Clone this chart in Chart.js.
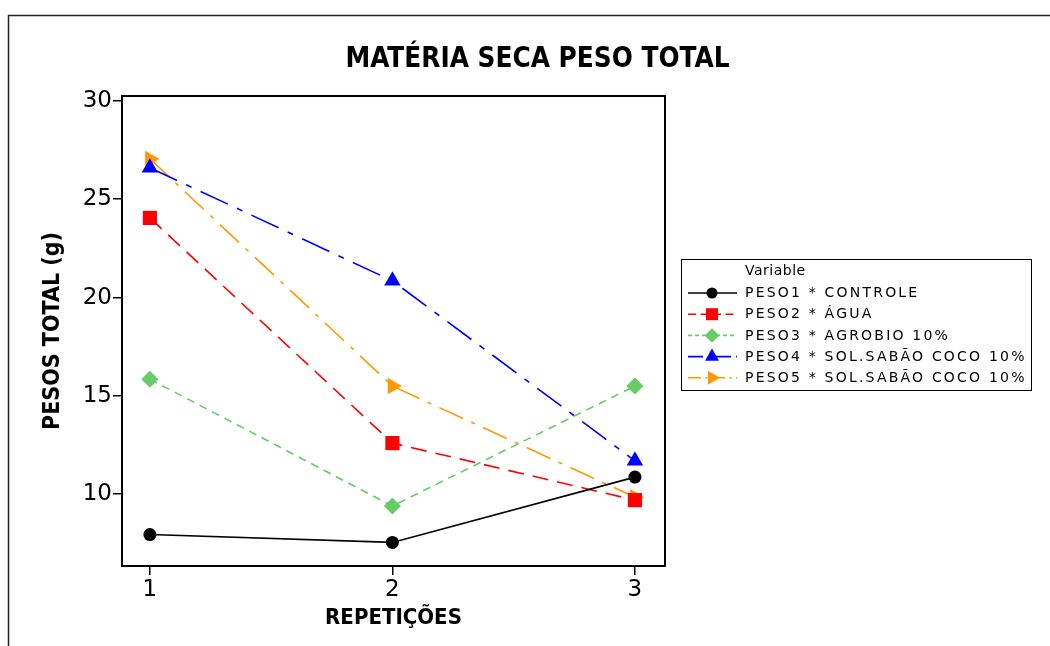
<!DOCTYPE html>
<html><head><meta charset="utf-8">
<script src="https://cdn.jsdelivr.net/npm/chart.js@4/dist/chart.umd.min.js"></script>
<style>html,body{margin:0;padding:0;background:#fff}#wrap{width:1050px;height:646px}</style>
</head><body><div id="wrap"><canvas id="c" width="1050" height="646"></canvas></div>
<script>
const titleText = 'MATÉRIA SECA PESO TOTAL';
const xTitle = 'REPETIÇÕES';
const yTitle = 'PESOS TOTAL (g)';
const legendHeader = 'Variable';
const repeticoes = [1, 2, 3];
const seriesNames = ['PESO1 * CONTROLE', 'PESO2 * ÁGUA', 'PESO3 * AGROBIO 10%', 'PESO4 * SOL.SABÃO COCO 10%', 'PESO5 * SOL.SABÃO COCO 10%'];
const peso1 = [7.95, 7.55, 10.87];
const peso2 = [24.05, 12.6, 9.7];
const peso3 = [15.85, 9.4, 15.5];
const peso4 = [26.6, 20.85, 11.7];
const peso5 = [27.05, 15.5, 9.85];
const yTicks = [10, 15, 20, 25, 30];

const FONT = '"DejaVu Sans", Verdana, sans-serif';
const COND = '"DejaVu Sans Condensed", "DejaVu Sans", sans-serif';

function pts(arr) { return arr.map((v, i) => ({ x: repeticoes[i], y: v })); }

const styles = [
  { color: '#000000', dash: [], pointStyle: 'circle', radius: 6.5, rotation: 0 },
  { color: '#ff0000', dash: [16, 9], pointStyle: 'rect', radius: 10, rotation: 0 },
  { color: '#66cc66', dash: [8, 6], pointStyle: 'rectRot', radius: 8.5, rotation: 0 },
  { color: '#0000ff', dash: [30, 10, 6, 10], pointStyle: 'triangle', radius: 9.5, rotation: 0 },
  { color: '#ff9900', dash: [26, 9, 4, 9], pointStyle: 'triangle', radius: 9.5, rotation: 90 }
];
const allData = [peso1, peso2, peso3, peso4, peso5];

const datasets = allData.map((d, i) => ({
  label: seriesNames[i],
  data: pts(d),
  borderColor: styles[i].color,
  backgroundColor: styles[i].color,
  borderWidth: 1.6,
  borderDash: styles[i].dash,
  pointStyle: styles[i].pointStyle,
  pointRadius: styles[i].radius,
  pointRotation: styles[i].rotation,
  pointBorderWidth: 0,
  pointHoverRadius: styles[i].radius,
  tension: 0
}));

const framePlugin = {
  id: 'frame',
  beforeDraw(chart) {
    const ctx = chart.ctx;
    ctx.save();
    ctx.fillStyle = '#fff';
    ctx.fillRect(0, 0, chart.width, chart.height);
    ctx.strokeStyle = '#222';
    ctx.lineWidth = 1.5;
    ctx.beginPath();
    ctx.moveTo(8.5, 700); ctx.lineTo(8.5, 15.5); ctx.lineTo(1100, 15.5);
    ctx.stroke();
    ctx.restore();
  },
  afterDraw(chart) {
    const ctx = chart.ctx;
    const a = chart.chartArea;
    ctx.save();
    ctx.strokeStyle = '#000';
    ctx.lineWidth = 2;
    ctx.strokeRect(a.left, a.top, a.right - a.left, a.bottom - a.top);
    // title
    ctx.fillStyle = '#000';
    ctx.font = 'bold 28px ' + COND;
    ctx.textAlign = 'center';
    ctx.textBaseline = 'middle';
    ctx.fillText(titleText, 537.5, 60, 384);
    // legend
    const lx = 681, ly = 259, lw = 350, lh = 131;
    ctx.lineWidth = 1;
    ctx.strokeStyle = '#000';
    ctx.strokeRect(lx + 0.5, ly + 0.5, lw, lh);
    ctx.font = '14px ' + FONT;
    ctx.textAlign = 'left';
    ctx.letterSpacing = '0.5px';
    ctx.fillText(legendHeader, 745, 271);
    ctx.letterSpacing = '2.2px';
    chart.data.datasets.forEach((ds, i) => {
      const y = 293 + i * 21.2;
      ctx.save();
      ctx.strokeStyle = ds.borderColor;
      ctx.lineWidth = 1.6;
      ctx.setLineDash(ds.borderDash.length ? ds.borderDash.map(v => v * 0.5) : []);
      ctx.beginPath(); ctx.moveTo(688, y); ctx.lineTo(737, y); ctx.stroke();
      ctx.setLineDash([]);
      ctx.fillStyle = ds.backgroundColor;
      Chart.helpers.drawPoint(ctx, { pointStyle: ds.pointStyle, rotation: ds.pointRotation, radius: ds.pointRadius * 0.85, borderWidth: 0 }, 712, y);
      ctx.restore();
      ctx.fillStyle = '#000';
      ctx.fillText(ds.label, 745, y + 0.5);
    });
    ctx.restore();
  }
};

new Chart(document.getElementById('c'), {
  type: 'line',
  data: { datasets },
  plugins: [framePlugin],
  options: {
    responsive: false,
    animation: false,
    devicePixelRatio: 1,
    layout: { padding: { left: 0, right: 385, top: 96, bottom: 0 } },
    plugins: { legend: { display: false }, title: { display: false }, tooltip: { enabled: false } },
    scales: {
      x: {
        type: 'linear', min: 0.885, max: 3.124,
        afterBuildTicks: s => { s.ticks = repeticoes.map(v => ({ value: v })); },
        afterFit: s => { s.height = 80; },
        grid: { display: true, drawOnChartArea: false, drawTicks: true, tickLength: 9, color: '#000', lineWidth: 1.5 },
        border: { display: false },
        ticks: { color: '#000', font: { family: FONT, size: 23 }, padding: 1, maxRotation: 0, callback: v => String(v) },
        title: { display: true, text: xTitle, color: '#000', font: { family: COND, size: 22, weight: 'bold' }, padding: { top: 0, bottom: 15 } }
      },
      y: {
        type: 'linear', min: 6.35, max: 30.25,
        afterBuildTicks: s => { s.ticks = yTicks.map(v => ({ value: v })); },
        afterFit: s => { s.width = 122; },
        grid: { display: true, drawOnChartArea: false, drawTicks: true, tickLength: 9, color: '#000', lineWidth: 1.5 },
        border: { display: false },
        ticks: { color: '#000', font: { family: FONT, size: 23 }, padding: 1, callback: v => String(v) },
        title: { display: true, text: yTitle, color: '#000', font: { family: COND, size: 23, weight: 'bold' }, padding: { top: 39, bottom: 0 } }
      }
    }
  }
});
</script></body></html>
